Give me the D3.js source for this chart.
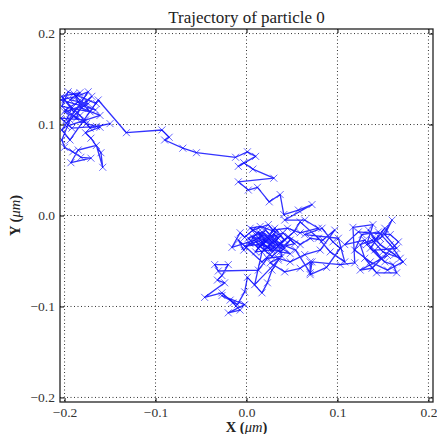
<!DOCTYPE html>
<html><head><meta charset="utf-8">
<script src="https://cdn.jsdelivr.net/npm/d3@7"></script>
<style>body{margin:0;background:#fff}</style>
</head><body>
<svg id="c" width="437" height="434"></svg>
<script>
const titleText = "Trajectory of particle 0";
const xTicks = [-0.2, -0.1, 0.0, 0.1, 0.2];
const yTicks = [-0.2, -0.1, 0.0, 0.1, 0.2];
const xDomain = [-0.205, 0.205];
const yDomain = [-0.205, 0.205];

const xValues = [
-0.198,-0.192,-0.203,-0.183,-0.194,-0.174,-0.200,-0.187,-0.179,-0.165,
-0.196,-0.203,-0.172,-0.190,-0.181,-0.161,-0.198,-0.177,-0.204,-0.192,
-0.165,-0.150,-0.172,-0.183,-0.200,-0.190,-0.170,-0.194,-0.203,-0.200,
-0.191,-0.182,-0.171,-0.193,-0.185,-0.165,-0.158,-0.160,-0.171,-0.177,
-0.161,-0.176,-0.199,-0.185,-0.166,
-0.204,-0.187,-0.174,-0.203,-0.194,-0.163,
-0.132,
-0.093,-0.085,-0.090,-0.070,-0.055,-0.012,0.001,0.010,-0.009,-0.003,
0.007,0.030,-0.009,0.002,0.012,0.025,0.037,0.041,
0.057,0.072,0.042,0.064,0.079,0.059,0.045,0.029,0.024,0.007,
-0.002,-0.007,-0.016,0.009,0.017,0.026,0.035,0.020,0.013,0.031,
0.042,0.026,0.017,0.037,0.048,0.028,0.015,0.004,0.024,0.040,
0.053,0.032,0.019,0.010,0.026,0.046,0.059,0.070,0.084,0.097,
0.081,0.064,0.048,0.035,0.026,0.042,0.059,0.070,0.070,0.054,
0.037,0.017,0.002,0.013,0.031,0.039,0.023,
0.013,-0.031,-0.035,-0.020,-0.027,-0.032,-0.024,-0.046,-0.027,-0.015,
-0.007,-0.020,-0.002,-0.027,-0.018,-0.010,-0.002,0.001,0.017,0.023,
0.028,0.035,0.009,
0.017,0.028,0.013,0.021,0.035,0.006,0.024,0.042,0.031,0.019,
-0.002,0.010,0.028,0.048,
0.004,0.015,0.032,0.021,0.037,0.010,-0.003,-0.009,0.017,0.052,
0.059,0.079,0.092,0.108,0.101,
0.064,0.083,0.095,0.103,0.088,0.070,0.072,0.103,0.119,0.117,
0.139,0.132,0.147,0.160,0.152,0.165,0.141,0.152,0.161,0.165,
0.143,0.130,0.125,0.138,0.150,0.169,0.158,0.145,0.127,0.119,
0.136,0.155,0.172,0.163,0.147,0.134,0.141,0.152,0.136,0.147,
0.130,0.108,
0.123,0.158,0.167,0.138,0.125,0.155
];
const yValues = [
0.105,0.118,0.131,0.135,0.127,0.123,0.114,0.107,0.129,0.123,
0.136,0.120,0.114,0.134,0.118,0.110,0.098,0.105,0.107,0.096,
0.098,0.101,0.096,0.110,0.127,0.114,0.131,0.105,0.083,0.075,
0.070,0.064,0.063,0.058,0.072,0.077,0.053,0.069,0.085,0.091,
0.097,0.101,0.116,0.125,0.116,
0.127,0.131,0.136,0.094,0.083,0.127,
0.091,
0.094,0.086,0.083,0.074,0.069,0.064,0.070,0.065,0.054,0.058,
0.051,0.041,0.037,0.028,0.031,0.015,0.023,0.001,
0.006,0.012,-0.005,-0.005,-0.014,-0.019,-0.014,-0.016,-0.010,-0.016,
-0.024,-0.019,-0.035,-0.027,-0.023,-0.032,-0.025,-0.038,-0.018,-0.029,
-0.036,-0.021,-0.031,-0.040,-0.027,-0.045,-0.034,-0.031,-0.025,-0.019,
-0.031,-0.036,-0.027,-0.040,-0.038,-0.023,-0.032,-0.025,-0.027,-0.016,
-0.038,-0.043,-0.051,-0.047,-0.052,-0.062,-0.058,-0.051,-0.063,-0.038,
-0.031,-0.018,-0.025,-0.036,-0.021,-0.045,-0.047,
-0.060,-0.061,-0.054,-0.054,-0.066,-0.071,-0.074,-0.090,-0.085,-0.096,
-0.104,-0.107,-0.098,-0.088,-0.093,-0.098,-0.084,-0.068,-0.085,-0.074,
-0.060,-0.049,-0.076,
-0.040,-0.029,-0.025,-0.016,-0.033,-0.023,-0.036,-0.027,-0.014,-0.031,
-0.034,-0.029,-0.038,-0.042,
-0.014,-0.012,-0.018,-0.029,-0.023,-0.021,-0.038,-0.027,-0.051,-0.018,
-0.007,-0.025,-0.040,-0.051,-0.025,
-0.021,-0.014,-0.029,-0.036,-0.057,-0.065,-0.051,-0.054,-0.052,-0.013,
-0.010,-0.032,-0.025,-0.005,-0.021,-0.036,-0.038,-0.051,-0.054,-0.063,
-0.063,-0.047,-0.032,-0.027,-0.040,-0.047,-0.032,-0.018,-0.021,-0.038,
-0.051,-0.060,-0.051,-0.043,-0.032,-0.016,-0.027,-0.014,-0.036,-0.047,
-0.027,-0.032,
-0.018,-0.021,-0.029,-0.058,-0.060,-0.044
];

const svg = d3.select("#c");
const L = 60, R = 433, T = 29, B = 402;
const x = d3.scaleLinear().domain(xDomain).range([L, R]);
const y = d3.scaleLinear().domain(yDomain).range([B, T]);
const font = "'Liberation Serif','DejaVu Serif',serif";
const fmt = v => d3.format(".1f")(v).replace("-", "\u2212");

// grid
const g = svg.append("g");
g.selectAll(".gx").data(xTicks).join("line")
  .attr("x1", d => x(d)).attr("x2", d => x(d)).attr("y1", T).attr("y2", B)
  .attr("stroke", "#000").attr("stroke-width", 0.8).attr("stroke-dasharray", "1,2.5");
g.selectAll(".gy").data(yTicks).join("line")
  .attr("y1", d => y(d)).attr("y2", d => y(d)).attr("x1", L).attr("x2", R)
  .attr("stroke", "#000").attr("stroke-width", 0.8).attr("stroke-dasharray", "1,2.5");

// data
svg.append("clipPath").attr("id", "clip").append("rect")
  .attr("x", L).attr("y", T).attr("width", R - L).attr("height", B - T);
const pts = xValues.map((v, i) => [v, yValues[i]]);
const plot = svg.append("g").attr("clip-path", "url(#clip)");
plot.append("path").datum(pts)
  .attr("d", d3.line().x(d => x(d[0])).y(d => y(d[1])))
  .attr("fill", "none").attr("stroke", "#0000ff").attr("stroke-opacity", 0.8)
  .attr("stroke-width", 1.3).attr("stroke-linejoin", "round");
const s = 3.5;
plot.selectAll(".m").data(pts).join("path")
  .attr("d", d => {
    const cx = x(d[0]), cy = y(d[1]);
    return `M${cx - s},${cy - s}L${cx + s},${cy + s}M${cx - s},${cy + s}L${cx + s},${cy - s}`;
  })
  .attr("stroke", "#0000ff").attr("stroke-opacity", 0.6).attr("stroke-width", 1);

// axes with inward ticks on all sides
const tl = 4;
const axB = d3.axisBottom(x).tickValues(xTicks).tickSizeInner(-tl).tickSizeOuter(0).tickPadding(5).tickFormat(fmt);
const axT = d3.axisTop(x).tickValues(xTicks).tickSizeInner(-tl).tickSizeOuter(0).tickFormat("");
const axL = d3.axisLeft(y).tickValues(yTicks).tickSizeInner(-tl).tickSizeOuter(0).tickPadding(5).tickFormat(fmt);
const axR = d3.axisRight(y).tickValues(yTicks).tickSizeInner(-tl).tickSizeOuter(0).tickFormat("");
function styleAx(sel) {
  sel.select(".domain").remove();
  sel.selectAll("line").attr("stroke", "#000").attr("stroke-width", 1);
  sel.selectAll("text").attr("font-family", font).attr("font-size", 13.5).attr("fill", "#333");
}
svg.append("g").attr("transform", `translate(0,${B})`).call(axB).call(styleAx);
svg.append("g").attr("transform", `translate(0,${T})`).call(axT).call(styleAx);
svg.append("g").attr("transform", `translate(${L},0)`).call(axL).call(styleAx);
svg.append("g").attr("transform", `translate(${R},0)`).call(axR).call(styleAx);

svg.append("rect").attr("x", L).attr("y", T).attr("width", R - L).attr("height", B - T)
  .attr("fill", "none").attr("stroke", "#222").attr("stroke-width", 1.3);

// title & labels
svg.append("text").attr("x", (L + R) / 2).attr("y", 23).attr("text-anchor", "middle")
  .attr("font-family", font).attr("font-size", 17).attr("fill", "#222").text(titleText);
const xl = svg.append("text").attr("x", (L + R) / 2).attr("y", 432).attr("text-anchor", "middle")
  .attr("font-family", font).attr("font-size", 14.5).attr("fill", "#222");
xl.append("tspan").attr("font-weight", "bold").text("X (");
xl.append("tspan").attr("font-style", "italic").text("\u03bcm");
xl.append("tspan").attr("font-weight", "bold").text(")");
const yl = svg.append("text").attr("transform", `translate(20,${(T + B) / 2}) rotate(-90)`)
  .attr("text-anchor", "middle").attr("font-family", font).attr("font-size", 14.5).attr("fill", "#222");
yl.append("tspan").attr("font-weight", "bold").text("Y (");
yl.append("tspan").attr("font-style", "italic").text("\u03bcm");
yl.append("tspan").attr("font-weight", "bold").text(")");
</script>
</body></html>
